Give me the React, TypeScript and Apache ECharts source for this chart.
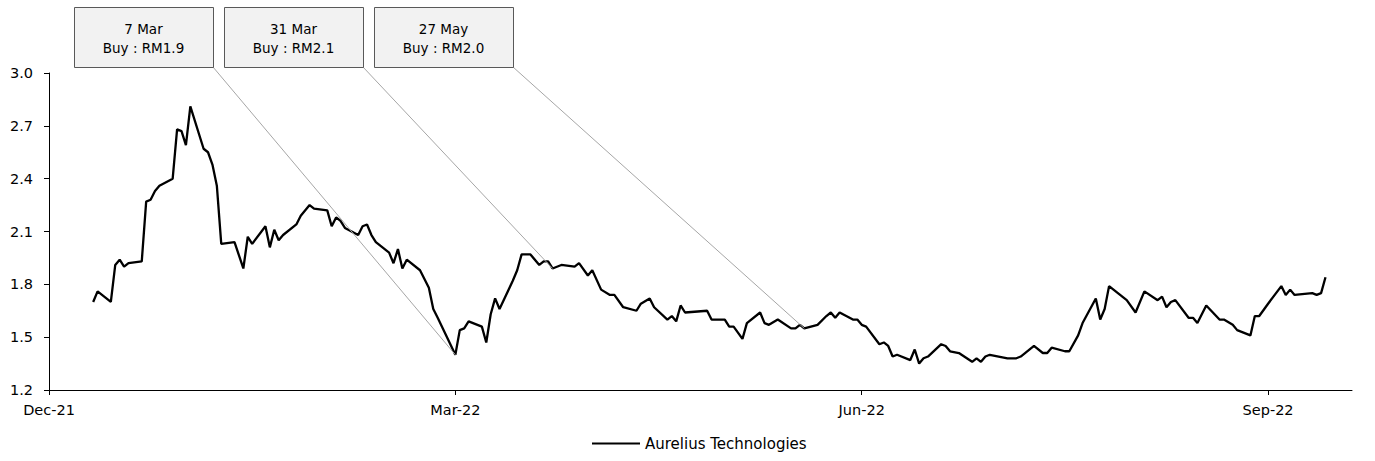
import React, { useEffect, useRef } from "react";
import * as echarts from "echarts";

const dates = [
  "2021-12-17","2021-12-18","2021-12-21","2021-12-22","2021-12-23","2021-12-24","2021-12-25","2021-12-28","2021-12-29","2021-12-30",
  "2021-12-31","2022-01-01","2022-01-04","2022-01-05","2022-01-06","2022-01-07","2022-01-08","2022-01-11","2022-01-12","2022-01-13",
  "2022-01-14","2022-01-15","2022-01-18","2022-01-20","2022-01-21","2022-01-22","2022-01-25","2022-01-26","2022-01-27","2022-01-28",
  "2022-01-29","2022-02-01","2022-02-02","2022-02-04","2022-02-05","2022-02-08","2022-02-09","2022-02-10","2022-02-11","2022-02-12",
  "2022-02-15","2022-02-16","2022-02-17","2022-02-18","2022-02-19","2022-02-22","2022-02-23","2022-02-24","2022-02-25","2022-02-26",
  "2022-03-01","2022-03-02","2022-03-03","2022-03-04","2022-03-05","2022-03-09","2022-03-10","2022-03-11","2022-03-12","2022-03-15",
  "2022-03-16","2022-03-17","2022-03-18","2022-03-19","2022-03-22","2022-03-23","2022-03-24","2022-03-26","2022-03-28","2022-03-29",
  "2022-03-30","2022-03-31","2022-04-02","2022-04-05","2022-04-06","2022-04-08","2022-04-09","2022-04-11","2022-04-13","2022-04-14",
  "2022-04-16","2022-04-19","2022-04-20","2022-04-22","2022-04-23","2022-04-26","2022-04-27","2022-04-28","2022-04-29","2022-04-30",
  "2022-05-05","2022-05-06","2022-05-09","2022-05-10","2022-05-11","2022-05-13","2022-05-14","2022-05-17","2022-05-18","2022-05-19",
  "2022-05-21","2022-05-24","2022-05-25","2022-05-26","2022-05-27","2022-05-30","2022-06-01","2022-06-02","2022-06-03","2022-06-04",
  "2022-06-07","2022-06-08","2022-06-09","2022-06-10","2022-06-13","2022-06-14","2022-06-15","2022-06-16","2022-06-17","2022-06-20",
  "2022-06-21","2022-06-22","2022-06-23","2022-06-24","2022-06-27","2022-06-28","2022-06-29","2022-07-01","2022-07-04","2022-07-05",
  "2022-07-06","2022-07-07","2022-07-08","2022-07-12","2022-07-14","2022-07-15","2022-07-18","2022-07-20","2022-07-21","2022-07-22",
  "2022-07-25","2022-07-26","2022-07-28","2022-07-29","2022-08-01","2022-08-02","2022-08-03","2022-08-04","2022-08-08","2022-08-10",
  "2022-08-12","2022-08-15","2022-08-16","2022-08-17","2022-08-18","2022-08-19","2022-08-22","2022-08-23","2022-08-24","2022-08-26",
  "2022-08-29","2022-08-30","2022-09-01","2022-09-02","2022-09-05","2022-09-06","2022-09-07","2022-09-09","2022-09-12","2022-09-13",
  "2022-09-14","2022-09-15","2022-09-19","2022-09-20","2022-09-21","2022-09-22",
];

const prices = [
  1.70, 1.76, 1.70, 1.91, 1.94, 1.90, 1.92, 1.93, 2.27, 2.28,
  2.33, 2.36, 2.40, 2.68, 2.67, 2.59, 2.81, 2.57, 2.55, 2.48,
  2.36, 2.03, 2.04, 1.89, 2.07, 2.03, 2.13, 2.01, 2.11, 2.05,
  2.08, 2.14, 2.19, 2.25, 2.23, 2.22, 2.13, 2.18, 2.16, 2.12,
  2.08, 2.13, 2.14, 2.08, 2.04, 1.98, 1.92, 2.00, 1.89, 1.94,
  1.88, 1.83, 1.78, 1.66, 1.61, 1.40, 1.54, 1.55, 1.59, 1.56,
  1.47, 1.63, 1.72, 1.66, 1.82, 1.88, 1.97, 1.97, 1.91, 1.93,
  1.93, 1.89, 1.91, 1.90, 1.92, 1.85, 1.88, 1.77, 1.74, 1.74,
  1.67, 1.65, 1.69, 1.72, 1.67, 1.60, 1.62, 1.59, 1.68, 1.64,
  1.65, 1.60, 1.60, 1.56, 1.56, 1.49, 1.58, 1.64, 1.58, 1.57,
  1.60, 1.55, 1.55, 1.57, 1.55, 1.57, 1.62, 1.64, 1.61, 1.64,
  1.60, 1.60, 1.57, 1.56, 1.46, 1.47, 1.45, 1.39, 1.40, 1.37,
  1.43, 1.35, 1.38, 1.39, 1.46, 1.45, 1.42, 1.41, 1.36, 1.38,
  1.36, 1.39, 1.40, 1.38, 1.38, 1.39, 1.45, 1.41, 1.41, 1.44,
  1.42, 1.42, 1.51, 1.58, 1.72, 1.60, 1.66, 1.79, 1.71, 1.64,
  1.76, 1.71, 1.73, 1.67, 1.70, 1.71, 1.61, 1.61, 1.58, 1.68,
  1.60, 1.60, 1.57, 1.54, 1.51, 1.62, 1.62, 1.69, 1.79, 1.74,
  1.77, 1.74, 1.75, 1.74, 1.75, 1.84,
];

const seriesName = "Aurelius Technologies";

const tickDates = ["2021-12-07", "2022-03-09", "2022-06-09", "2022-09-09"];
const tickLabels = ["Dec-21", "Mar-22", "Jun-22", "Sep-22"];
const axisStartDate = "2021-12-07";
const axisEndDate = "2022-09-28";

const annotationTitles = ["7 Mar", "31 Mar", "27 May"];
const annotationCalls = ["Buy : RM1.9", "Buy : RM2.1", "Buy : RM2.0"];
const annotationAnchorDates = ["2022-03-09", "2022-03-31", "2022-05-27"];

const DAY_MS = 86400000;
const toDay = (s: string) => (Date.parse(s) - Date.parse(axisStartDate)) / DAY_MS;

const FONT = "DejaVu Sans";

export default function App() {
  const ref = useRef<HTMLDivElement>(null);

  useEffect(() => {
    if (!ref.current) return;
    const chart = echarts.init(ref.current, undefined, { renderer: "svg" });
    const tickDays = tickDates.map(toDay);
    const data = dates.map((d, i) => [toDay(d), prices[i]]);

    chart.setOption({
      animation: false,
      backgroundColor: "#ffffff",
      grid: { left: 49, right: 23, top: 73, bottom: 71 },
      xAxis: {
        type: "value",
        min: 0,
        max: toDay(axisEndDate),
        splitLine: { show: false },
        axisLine: { show: true, onZero: false, lineStyle: { color: "#000", width: 1 } },
        axisTick: { show: true, length: 5, customValues: tickDays, lineStyle: { color: "#000" } },
        axisLabel: {
          customValues: tickDays,
          color: "#000",
          fontFamily: FONT,
          fontSize: 14.5,
          margin: 12,
          formatter: (v: number) => {
            const i = tickDays.findIndex((t) => Math.abs(t - v) < 0.01);
            return i >= 0 ? tickLabels[i] : "";
          },
        },
      },
      yAxis: {
        type: "value",
        min: 1.2,
        max: 3.0,
        interval: 0.3,
        splitLine: { show: false },
        axisLine: { show: true, lineStyle: { color: "#000", width: 1 } },
        axisTick: { show: true, length: 5, lineStyle: { color: "#000" } },
        axisLabel: {
          color: "#000",
          fontFamily: FONT,
          fontSize: 14.5,
          margin: 16,
          formatter: (v: number) => v.toFixed(1),
        },
      },
      legend: {
        left: 587,
        top: 431,
        icon: "rect",
        itemWidth: 48,
        itemHeight: 2,
        textStyle: { color: "#000", fontFamily: FONT, fontSize: 15 },
        data: [seriesName],
      },
      series: [
        {
          name: seriesName,
          type: "line",
          data,
          symbol: "none",
          lineStyle: { color: "#000", width: 2.3 },
          itemStyle: { color: "#000" },
          z: 3,
        },
      ],
    });

    const boxLeft = [74, 224, 374];
    const boxTop = 7;
    const boxW = 139;
    const boxH = 60;
    const graphics: any[] = [];
    annotationTitles.forEach((title, i) => {
      const anchorIdx = dates.indexOf(annotationAnchorDates[i]);
      const p = chart.convertToPixel({ seriesIndex: 0 }, data[anchorIdx]) as number[];
      const x0 = boxLeft[i] + boxW;
      const y0 = boxTop + boxH;
      graphics.push({
        type: "line",
        shape: { x1: x0, y1: y0, x2: p[0], y2: p[1] },
        style: { stroke: "#a6a6a6", lineWidth: 1 },
        z: 10,
      });
      graphics.push({
        type: "rect",
        shape: { x: boxLeft[i] + 0.5, y: boxTop + 0.5, width: boxW, height: boxH },
        style: { fill: "#f2f2f2", stroke: "#595959", lineWidth: 1 },
        z: 11,
      });
      graphics.push({
        type: "text",
        x: boxLeft[i] + boxW / 2,
        y: boxTop + boxH / 2 + 1,
        style: {
          text: title + "\n" + annotationCalls[i],
          align: "center",
          verticalAlign: "middle",
          fill: "#000",
          font: `13.5px "${FONT}"`,
          lineHeight: 19,
        },
        z: 12,
      });
    });
    chart.setOption({ graphic: graphics });

    return () => chart.dispose();
  }, []);

  return (
    <div
      ref={ref}
      style={{ position: "fixed", left: 0, top: 0, width: 1375, height: 461 }}
    />
  );
}
